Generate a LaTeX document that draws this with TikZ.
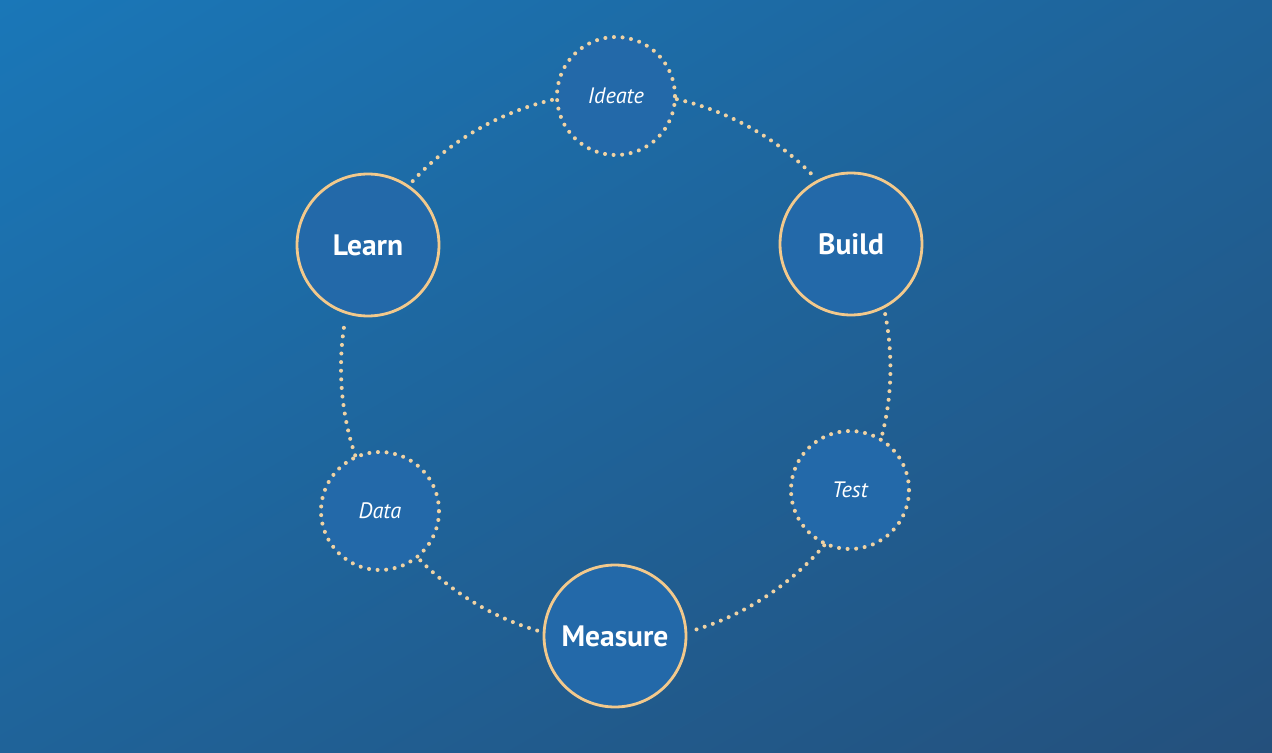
\documentclass[tikz,border=0pt]{standalone}
\usepackage{fontspec}
\setmainfont{PT Sans}
\usetikzlibrary{shadings}
\definecolor{bgTL}{HTML}{1A77B8}
\definecolor{bgBR}{HTML}{24507C}
\definecolor{bgMid}{HTML}{1F6399}
\definecolor{nodefill}{HTML}{2369A9}
\definecolor{peach}{HTML}{F2C98C}
\definecolor{dotcol}{HTML}{EED2A4}
\tikzset{
  dots/.style={draw=dotcol, line width=2.3pt, dash pattern=on 0pt off 4.9pt, line cap=round},
  bigstage/.style={circle, fill=nodefill, draw=peach, line width=1.6pt, minimum size=2.84cm, inner sep=0pt, outer sep=0.14cm, text=white, font=\bfseries\fontsize{16.8}{19}\selectfont},
  substage/.style={circle, fill=nodefill, dots, minimum size=2.36cm, inner sep=0pt, outer sep=0.04cm, text=white, font=\itshape\fontsize{12.7}{15}\selectfont},
  link/.style={dots, looseness=0.86}
}
\begin{document}
\begin{tikzpicture}[x=0.02cm, y=-0.02cm]
\useasboundingbox (0,0) rectangle (1272,753);
\shade[upper left=bgTL, lower right=bgBR, upper right=bgMid, lower left=bgMid] (0,0) rectangle (1272,753);
\node[bigstage] (learn) at (368,245) {Learn};
\node[bigstage] (build) at (851,244) {Build};
\node[bigstage] (measure) at (615,636) {Measure};
\node[substage] (ideate) at (616,96) {Ideate};
\node[substage] (test) at (850,490) {Test};
\node[substage] (data) at (380,511) {Data};
\draw[link] (learn.55) to[out=47.5, in=192.7] (ideate.183);
\draw[link] (ideate.357) to[out=-12.9, in=134.1] (build.119);
\draw[link] (build.296) to[out=-78.9, in=75.1] (test.59);
\draw[link] (test.245) to[out=-130.5, in=16.3] (measure.4);
\draw[link] (measure.176) to[out=163.5, in=-45.8] (data.309);
\draw[link] (data.114) to[out=108.7, in=260] (learn.253);
\end{tikzpicture}
\end{document}
